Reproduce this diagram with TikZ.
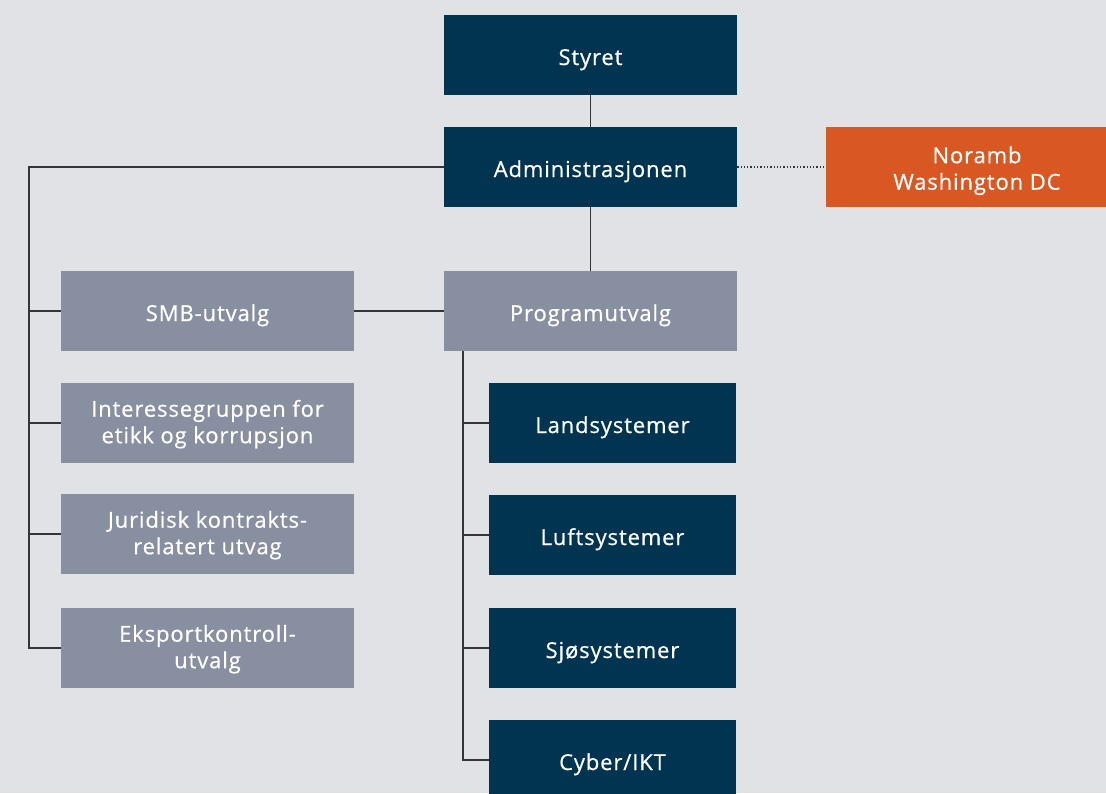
\documentclass[tikz,border=0pt]{standalone}
\usepackage{fontspec}
\setmainfont{Open Sans}[LetterSpace=4, FakeBold=0.6]
\usepackage{xcolor}
\usepackage{tikz}
\definecolor{navy}{RGB}{0,52,80}
\definecolor{slate}{RGB}{135,143,160}
\definecolor{rust}{RGB}{216,87,34}
\definecolor{backdrop}{RGB}{225,226,230}
\definecolor{linegrey}{RGB}{50,52,56}

\tikzset{
  unitbox/.style={minimum width=293pt, minimum height=80pt, inner sep=0pt, text=white, align=center,
    font=\fontsize{22}{26.5}\selectfont, text height=20pt, text depth=0pt},
  twoline/.style={text height=46.5pt, text depth=6.1pt},
  darkbox/.style={unitbox, fill=navy},
  greybox/.style={unitbox, fill=slate},
  subbox/.style={darkbox, minimum width=247pt},
  link/.style={draw=linegrey, line width=1.8pt}
}

\begin{document}
\begin{tikzpicture}[x=1pt,y=1pt,yscale=-1]
\useasboundingbox (0,0) rectangle (1106,793);
\fill[backdrop] (0,0) rectangle (1106,793);
\clip (0,0) rectangle (1106,793);

%Shape: top boxes
\node[darkbox] (styret) at (590.5,55) {Styret};
\node[darkbox] (admin) at (590.5,167) {Administrasjonen};
\node[unitbox, twoline, text height=49pt, text depth=3.6pt, fill=rust, minimum width=302pt] (noramb) at (977,167) {Noramb\\Washington DC};

%Shape: committees
\node[greybox] (smb) at (207.5,311) {SMB-utvalg};
\node[greybox] (program) at (590.5,311) {Programutvalg};
\node[greybox, twoline] (etikk) at (207.5,423) {Interessegruppen for\\etikk og korrupsjon};
\node[greybox, twoline] (juridisk) at (207.5,534) {Juridisk kontrakts-\\relatert utvag};
\node[greybox, twoline] (eksport) at (207.5,648) {Eksportkontroll-\\utvalg};

%Shape: program groups
\node[subbox] (land) at (612.5,423) {Landsystemer};
\node[subbox] (luft) at (612.5,535) {Luftsystemer};
\node[subbox] (sjo) at (612.5,648) {Sjøsystemer};
\node[subbox] (cyber) at (612.5,760) {Cyber/IKT};

\coordinate (lefttop) at (29,167);
\coordinate (progtop) at (463,351);

%Straight Lines
\draw[link] (styret) -- (admin);
\draw[link] (admin) -- (program);
\draw[link] (smb) -- (program);
\draw[linegrey, line width=1.3pt, dotted] (admin) -- (noramb);
\draw[link] (admin.west) -- (lefttop) |- (eksport.west);
\draw[link] (smb.west) -| (lefttop);
\draw[link] (etikk.west) -| (lefttop);
\draw[link] (juridisk.west) -| (lefttop);
\draw[link] (progtop) |- (cyber.west);
\draw[link] (land.west) -| (progtop);
\draw[link] (luft.west) -| (progtop);
\draw[link] (sjo.west) -| (progtop);
\end{tikzpicture}
\end{document}
